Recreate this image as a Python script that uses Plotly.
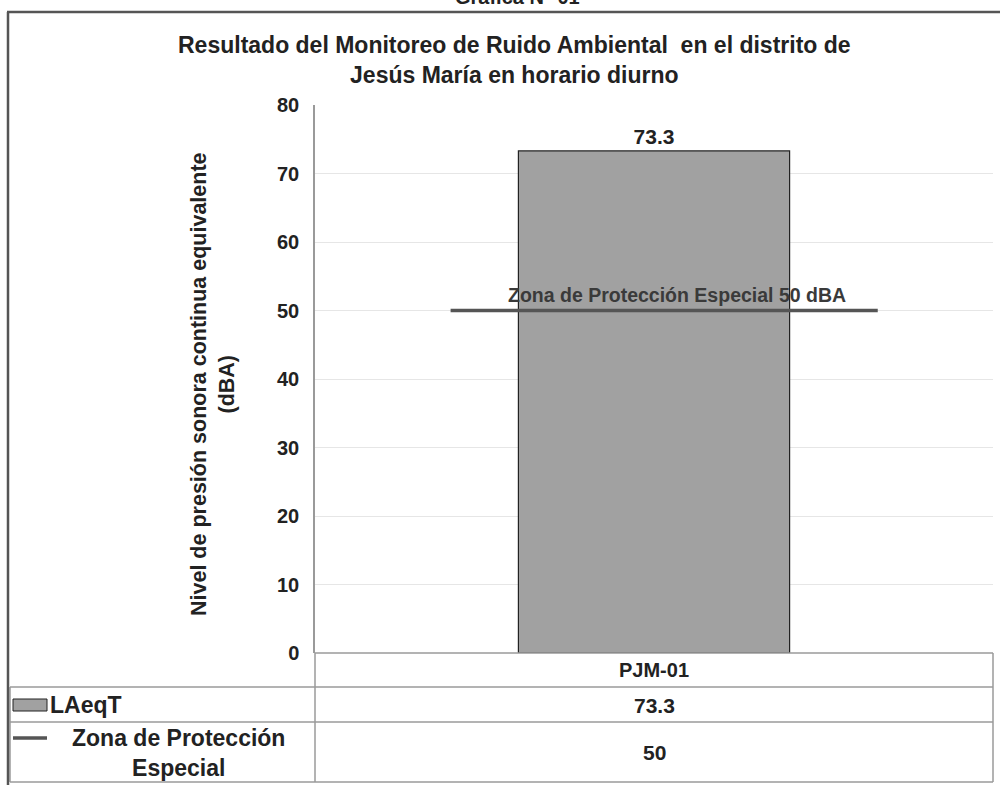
import plotly.graph_objects as go

# ---- data ----
categories = ["PJM-01"]
laeqt_values = [73.3]
zona_values = [50]
series_names = ["LAeqT", "Zona de Protección<br>Especial"]
title_text = "Resultado del Monitoreo de Ruido Ambiental  en el distrito de<br>Jesús María en horario diurno"
yaxis_title = "Nivel de presión sonora continua equivalente<br>(dBA)"
line_label = "Zona de Protección Especial 50 dBA"
top_caption = "Gráfica N° 01"
y_ticks = [0, 10, 20, 30, 40, 50, 60, 70, 80]

W, H = 1000, 785
FONT = "Liberation Sans, Arial, sans-serif"


def px(x):
    return x / W


def py(y):
    return 1 - y / H


x_pos = list(range(len(categories)))

fig = go.Figure()
fig.add_trace(go.Bar(
    x=x_pos, y=laeqt_values, width=0.4,
    marker=dict(color="#a1a1a1", line=dict(color="#222222", width=1.2)),
    text=[f"<b>{v:.1f}</b>" for v in laeqt_values], textposition="outside",
    textfont=dict(family=FONT, size=21, color="#222222"),
    cliponaxis=False, showlegend=False,
))
fig.add_trace(go.Scatter(
    x=[-0.3, 0.33], y=[zona_values[0]] * 2, mode="lines",
    line=dict(color="#555555", width=3.5), showlegend=False,
))

fig.update_layout(
    width=W, height=H, margin=dict(l=0, r=0, t=0, b=0, autoexpand=False),
    paper_bgcolor="white", plot_bgcolor="white",
    font=dict(family=FONT, color="#222222"),
    xaxis=dict(domain=[px(315), px(993)], range=[-0.5, 0.5], showticklabels=False,
               showgrid=False, zeroline=False, fixedrange=True),
    yaxis=dict(domain=[py(653), py(105)], range=[0, 80], tickvals=y_ticks,
               ticktext=[f"<b>{t}</b>" for t in y_ticks],
               showgrid=True, gridcolor="#e6e6e6", gridwidth=1, zeroline=False,
               showline=True, linecolor="#9a9a9a", linewidth=1.5,
               ticks="", ticklen=0,
               tickfont=dict(family=FONT, size=20, color="#222222"),
               ticklabelstandoff=10),
)

ann = []
# top caption (partially cut at the top edge, as in the reference)
ann.append(dict(text="<b>" + top_caption + "</b>", x=px(517), y=py(10), xref="paper", yref="paper",
                xanchor="center", yanchor="bottom", showarrow=False,
                font=dict(family=FONT, size=20, color="#222")))
# title
ann.append(dict(text="<b>" + title_text + "</b>", x=px(514), y=py(60), xref="paper", yref="paper",
                xanchor="center", yanchor="middle", showarrow=False,
                font=dict(family=FONT, size=23, color="#222")))
# y axis title
ann.append(dict(text="<b>" + yaxis_title + "</b>", x=px(213), y=py(384), xref="paper", yref="paper",
                xanchor="center", yanchor="middle", showarrow=False, textangle=-90,
                font=dict(family=FONT, size=21.5, color="#222")))
# line label
ann.append(dict(text="<b>" + line_label + "</b>", x=0.034, y=zona_values[0], xref="x", yref="y",
                xanchor="center", yanchor="bottom", yshift=3, showarrow=False,
                font=dict(family=FONT, size=19.5, color="#3a3a3a")))
# table texts
for i, c in enumerate(categories):
    ann.append(dict(text="<b>" + c + "</b>", x=i, y=py(670), xref="x", yref="paper",
                    xanchor="center", yanchor="middle", showarrow=False,
                    font=dict(family=FONT, size=20, color="#222")))
    ann.append(dict(text=f"<b>{laeqt_values[i]:.1f}</b>", x=i, y=py(705), xref="x", yref="paper",
                    xanchor="center", yanchor="middle", showarrow=False,
                    font=dict(family=FONT, size=21, color="#222")))
    ann.append(dict(text=f"<b>{zona_values[i]}</b>", x=i, y=py(752), xref="x", yref="paper",
                    xanchor="center", yanchor="middle", showarrow=False,
                    font=dict(family=FONT, size=21, color="#222")))
ann.append(dict(text="<b>" + series_names[0] + "</b>", x=px(48), y=py(705), xref="paper", yref="paper",
                xanchor="left", yanchor="middle", showarrow=False,
                font=dict(family=FONT, size=23, color="#222")))
ann.append(dict(text="<b>" + series_names[1] + "</b>", x=px(178), y=py(753), xref="paper", yref="paper",
                xanchor="center", yanchor="middle", showarrow=False,
                font=dict(family=FONT, size=23, color="#222")))
fig.update_layout(annotations=ann)

shapes = []
gc = "#9a9a9a"


def hline(y, x0, x1, color=gc, w=1.5):
    shapes.append(dict(type="line", xref="paper", yref="paper", x0=px(x0), x1=px(x1),
                       y0=py(y), y1=py(y), line=dict(color=color, width=w)))


def vline(x, y0, y1, color=gc, w=1.5):
    shapes.append(dict(type="line", xref="paper", yref="paper", x0=px(x), x1=px(x),
                       y0=py(y0), y1=py(y1), line=dict(color=color, width=w)))


# table grid
hline(653, 315, 993)
hline(687, 10, 993)
hline(722, 10, 993)
hline(782, 10, 993)
vline(315, 653, 782)
vline(993, 653, 782)
vline(10, 687, 782)
# outer border
hline(12, 7, 1000, color="#555555", w=2.5)
vline(8, 12, 785, color="#555555", w=2.5)
# legend keys
shapes.append(dict(type="rect", xref="paper", yref="paper", x0=px(13), x1=px(47), y0=py(699), y1=py(711),
                   fillcolor="#a1a1a1", line=dict(color="#222222", width=1)))
hline(738, 13, 47, color="#555555", w=3.5)
fig.update_layout(shapes=shapes)

fig.write_html("out.html", config={"displayModeBar": False},
               post_script="document.body.style.margin='0';document.body.style.overflow='hidden';")
